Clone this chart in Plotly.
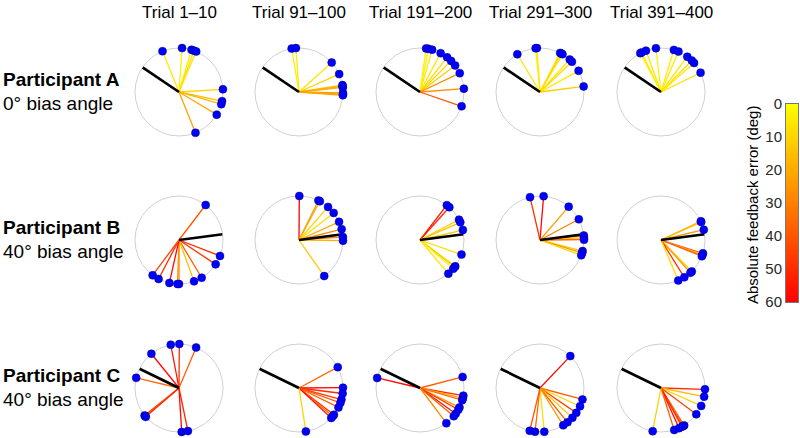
import plotly.graph_objects as go
from plotly.colors import sample_colorscale

# ---------------- data ----------------
column_titles = ["Trial 1–10", "Trial 91–100", "Trial 191–200", "Trial 291–300", "Trial 391–400"]
participants = ["Participant A", "Participant B", "Participant C"]
bias_labels = ["0° bias angle", "40° bias angle", "40° bias angle"]
bias_line_angle = [146, 7.5, 154]   # direction of black line (deg, ccw from east)

# feedback directions (deg, ccw from east) and absolute feedback error (deg)
A1_theta = [112, 86, 73.5, 70, 67, 3.5, -12, -16, -31, -68]
A1_err   = [5, 3, 5, 8, 6, 10, 15, 18, 20, 22]
A2_theta = [99.6, 94, 42, 24, 9, 7.5, 6, -1.3, -3, -4.3]
A2_err   = [4, 5, 6, 10, 15, 18, 20, 22, 25, 20]
A3_theta = [82, 79, 74, 62, 52, 45, 37, 25.4, 4.3, -19]
A3_err   = [3, 4, 5, 6, 8, 10, 12, 28, 26, 40]
A4_theta = [121, 95.7, 94, 62.7, 61, 59.3, 47.5, 43.5, 28.7, 7.3]
A4_err   = [6, 4, 5, 8, 10, 7, 5, 9, 6, 12]
A5_theta = [118, 116, 110, 96.6, 73, 66.6, 53.3, 45.6, 41.3, 26]
A5_err   = [5, 4, 6, 3, 5, 4, 6, 7, 5, 8]

B1_theta = [52.7, -21.3, -33.6, -59, -70, -90, -92, -102.6, -117.7, -126.8]
B1_err   = [40, 50, 48, 38, 15, 30, 25, 58, 50, 45]
B2_theta = [89.6, 63.8, 61.7, 48.7, 38, 24.4, 14.3, 4, -0.9, -55]
B2_err   = [60, 25, 20, 10, 8, 20, 28, 30, 18, 12]
B3_theta = [52.4, 48.1, 27.5, 23.7, 13.1, -19.4, -36.8, -38, -41, -49.9]
B3_err   = [55, 50, 10, 15, 12, 8, 5, 14, 4, 6]
B4_theta = [103.1, 85.3, 49.3, 28.1, 5.9, 3, 0.4, -14.6, -17, -20.3]
B4_err   = [48, 58, 22, 30, 35, 15, 38, 12, 25, 10]
B5_theta = [25.2, 24, 13.5, -17.6, -20, -21.7, -45.6, -48.1, -58, -66.9]
B5_err   = [22, 15, 25, 35, 28, 38, 10, 25, 48, 8]

C1_theta = [128.9, 100.8, 89.6, 67.1, 166.6, -141.4, -140, -139, -86.5, -78.3]
C1_err   = [58, 55, 50, 38, 35, 45, 40, 50, 58, 52]
C2_theta = [28.3, 0.4, -7.2, -15.2, -19.7, -26.2, -37.5, -40, -42.9, -81]
C2_err   = [35, 58, 50, 45, 40, 38, 48, 35, 55, 10]
C3_theta = [166.8, 14.5, -10, -13.4, -16.1, -26.2, -29.5, -35.7, -39.8, -53.2]
C3_err   = [58, 38, 50, 20, 35, 25, 45, 55, 38, 28]
C4_theta = [46.5, -15.1, -24.5, -34.4, -42.6, -51.3, -58.1, -84.4, -96.5, -103.5]
C4_err   = [58, 38, 10, 45, 12, 38, 25, 8, 35, 40]
C5_theta = [-1.7, -11.4, -24, -36.7, -58.2, -60, -61.7, -65.8, -72.5, -100.9]
C5_err   = [50, 15, 10, 45, 35, 40, 50, 55, 38, 10]

colorbar_ticks = [0, 10, 20, 30, 40, 50, 60]
err_max = 60

panels = [
    [(A1_theta, A1_err), (A2_theta, A2_err), (A3_theta, A3_err), (A4_theta, A4_err), (A5_theta, A5_err)],
    [(B1_theta, B1_err), (B2_theta, B2_err), (B3_theta, B3_err), (B4_theta, B4_err), (B5_theta, B5_err)],
    [(C1_theta, C1_err), (C2_theta, C2_err), (C3_theta, C3_err), (C4_theta, C4_err), (C5_theta, C5_err)],
]

# ---------------- layout geometry (pixel positions in the target picture) ----------------
W, H = 800, 438
col_x = [179, 299, 420, 540, 661]
row_y = [92, 240, 388]
R = 44
FONT = "Liberation Sans, Arial, sans-serif"
cscale = [[0, "rgb(255,255,0)"], [1, "rgb(255,0,0)"]]


def px(x):
    return x / W


def py(y):
    return 1 - y / H


fig = go.Figure()
layout_polars = {}
k = 0
for i, row in enumerate(panels):
    for j, (thetas, errs) in enumerate(row):
        k += 1
        pname = "polar" if k == 1 else f"polar{k}"
        cx, cy = col_x[j], row_y[i]
        layout_polars[pname] = dict(
            domain=dict(x=[px(cx - R), px(cx + R)], y=[py(cy + R), py(cy - R)]),
            bgcolor="white",
            radialaxis=dict(visible=False, range=[0, 1]),
            angularaxis=dict(visible=True, showgrid=False, showticklabels=False, ticks="",
                             showline=True, linecolor="rgb(208,208,208)", linewidth=1,
                             layer="below traces",
                             direction="counterclockwise", rotation=0),
        )
        for th, e in zip(thetas, errs):
            col = sample_colorscale(cscale, [e / err_max])[0]
            fig.add_trace(go.Scatterpolar(r=[0, 1], theta=[th, th], mode="lines",
                                          line=dict(color=col, width=1.3),
                                          subplot=pname, showlegend=False, hoverinfo="skip",
                                          cliponaxis=False))
        fig.add_trace(go.Scatterpolar(r=[0, 1], theta=[bias_line_angle[i]] * 2, mode="lines",
                                      line=dict(color="black", width=2.7),
                                      subplot=pname, showlegend=False, hoverinfo="skip",
                                      cliponaxis=False))
        fig.add_trace(go.Scatterpolar(r=[1] * len(thetas), theta=thetas, mode="markers",
                                      marker=dict(color="rgb(0,0,250)", size=8,
                                                  line=dict(color="rgb(0,0,150)", width=0.5)),
                                      subplot=pname, showlegend=False, cliponaxis=False))

# colour bar drawn as a heatmap on its own axes
levels = [v / 2 for v in range(0, 2 * err_max + 1)]
fig.add_trace(go.Heatmap(z=[[v, v] for v in levels], y=levels, x=[0, 1], colorscale=cscale,
                         zmin=0, zmax=err_max, showscale=False, hoverinfo="skip",
                         xaxis="x", yaxis="y"))

annotations = []
for j, t in enumerate(column_titles):
    annotations.append(dict(text=t, x=px(col_x[j]), y=py(13), xref="paper", yref="paper",
                            showarrow=False, xanchor="center", yanchor="middle",
                            font=dict(family=FONT, size=17, color="black")))
for i, (p, b) in enumerate(zip(participants, bias_labels)):
    cy = row_y[i]
    annotations.append(dict(text="<b>%s</b>" % p, x=px(1), y=py(cy - 13), xref="paper", yref="paper",
                            showarrow=False, xanchor="left", yanchor="middle",
                            font=dict(family=FONT, size=19, color="black")))
    annotations.append(dict(text=b, x=px(1), y=py(cy + 11), xref="paper", yref="paper",
                            showarrow=False, xanchor="left", yanchor="middle",
                            font=dict(family=FONT, size=19, color="black")))
annotations.append(dict(text="Absolute feedback error (deg)", x=px(753), y=py(205),
                        xref="paper", yref="paper", showarrow=False, textangle=-90,
                        xanchor="center", yanchor="middle",
                        font=dict(family=FONT, size=15, color="black")))

fig.update_layout(
    width=W, height=H, margin=dict(l=0, r=0, t=0, b=0, pad=0, autoexpand=False),
    paper_bgcolor="white", plot_bgcolor="white",
    showlegend=False,
    annotations=annotations,
    xaxis=dict(domain=[px(786), px(798)], range=[-0.5, 1.5], showticklabels=False, ticks="",
               showgrid=False, zeroline=False, showline=True, mirror=True,
               linecolor="rgb(120,120,120)", linewidth=1, fixedrange=True),
    yaxis=dict(domain=[py(302), py(104)], range=[err_max, 0], tickvals=colorbar_ticks,
               side="left", showgrid=False, zeroline=False, ticks="", showline=True, mirror=True,
               linecolor="rgb(120,120,120)", linewidth=1,
               tickfont=dict(family=FONT, size=15, color="rgb(40,40,40)"), fixedrange=True),
    **layout_polars,
)

fig.write_html("out.html", config={"displayModeBar": False},
               post_script="document.body.style.margin='0';document.body.style.overflow='hidden';")
